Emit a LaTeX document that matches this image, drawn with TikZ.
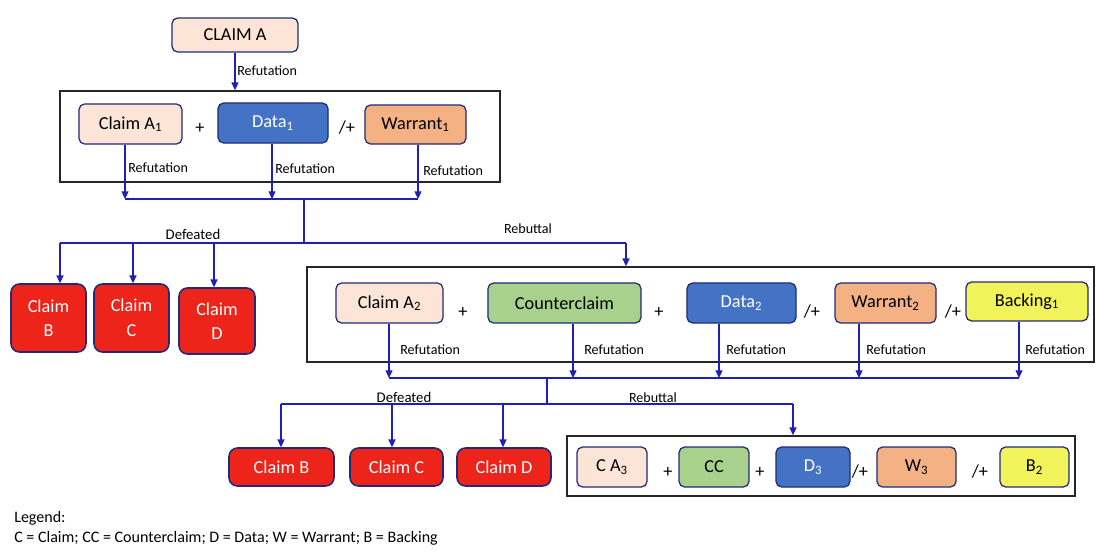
\documentclass[tikz,border=0pt]{standalone}
\usepackage{fontspec}
\setmainfont{Carlito}
\usetikzlibrary{arrows.meta, positioning}

\definecolor{peach}{RGB}{252,228,214}
\definecolor{datablue}{RGB}{68,114,196}
\definecolor{warrorange}{RGB}{244,177,131}
\definecolor{ccgreen}{RGB}{169,209,142}
\definecolor{backyellow}{RGB}{242,242,90}
\definecolor{defred}{RGB}{236,36,26}
\definecolor{navy}{RGB}{32,44,120}
\definecolor{linkblue}{RGB}{32,32,185}

\begin{document}
\begin{tikzpicture}[
      x=0.025cm, y=-0.025cm,
      box/.style={rectangle, draw=navy, line width=0.9pt, rounded corners=4pt, align=center, inner sep=2pt, font=\fontsize{13}{15}\selectfont},
      claimbox/.style={box, fill=peach},
      databox/.style={box, fill=datablue, text=white},
      warrbox/.style={box, fill=warrorange},
      ccbox/.style={box, fill=ccgreen},
      backbox/.style={box, fill=backyellow},
      defeat/.style={box, fill=defred, text=white, line width=1.1pt, rounded corners=6pt, font=\fontsize{13}{17.5}\selectfont},
      frame/.style={rectangle, draw=black!85, line width=1.1pt, inner sep=0pt},
      op/.style={font=\fontsize{13}{15}\selectfont, inner sep=0pt},
      lbl/.style={font=\fontsize{10}{12}\selectfont, inner sep=0pt},
      arrow/.style={-{Triangle[width=5pt,length=5.5pt]}, draw=linkblue, line width=0.9pt},
      link/.style={draw=linkblue, line width=0.9pt}
    ]
    \useasboundingbox (0,0) rectangle (1096,552);

    \node[claimbox, minimum width=3.15cm, minimum height=0.85cm] (claimA) at (235,35) {CLAIM A};

    % first refutation
    \node[frame, minimum width=11cm, minimum height=2.275cm] (f1) at (280,136.5) {};
    \node[claimbox, minimum width=2.575cm, minimum height=1cm] (ca1) at (130.5,124) {Claim A\textsubscript{1}};
    \node[op] (p1) at (200,128) {+};
    \node[databox, minimum width=2.75cm, minimum height=1cm] (d1) at (273,123) {Data\textsubscript{1}};
    \node[op] (p2) at (347,128) {/+};
    \node[warrbox, minimum width=2.525cm, minimum height=0.975cm] (w1) at (415.5,124.5) {Warrant\textsubscript{1}};

    \draw[arrow] (claimA) -- (claimA |- f1.north);
    \node[lbl, anchor=west] at (237,71) {Refutation};

    \coordinate (r1) at (125,199);
    \coordinate (r2) at (272,199);
    \coordinate (r3) at (418,199);
    \draw[arrow] (ca1.south -| r1) -- (r1);
    \draw[arrow] (d1.south -| r2) -- (r2);
    \draw[arrow] (w1.south -| r3) -- (r3);
    \node[lbl, anchor=west] at (128,168) {Refutation};
    \node[lbl, anchor=west] at (275,169) {Refutation};
    \node[lbl, anchor=west] at (423,171) {Refutation};
    \draw[link] (r1) -- (r3);

    \coordinate (j1) at (304,199);
    \coordinate (j2) at (304,243);
    \coordinate (dB) at (60,243);
    \coordinate (dC) at (133,243);
    \coordinate (dD) at (214,243);
    \coordinate (rb1) at (626,243);
    \draw[link] (j1) -- (j2);
    \draw[link] (dB) -- (rb1);
    \node[lbl, font=\fontsize{10.5}{12}\selectfont] at (193,234) {Defeated};
    \node[lbl] at (528,229) {Rebuttal};

    \node[defeat, minimum width=1.875cm, minimum height=1.7cm] (cB) at (48.5,318) {Claim\\B};
    \node[defeat, minimum width=1.875cm, minimum height=1.7cm] (cC) at (131.5,318) {Claim\\C};
    \node[defeat, minimum width=1.9cm, minimum height=1.65cm] (cD) at (217,321) {Claim\\D};
    \draw[arrow] (dB) -- (dB |- cB.north);
    \draw[arrow] (dC) -- (dC |- cC.north);
    \draw[arrow] (dD) -- (dD |- cD.north);

    % rebuttal with counterclaim
    \node[frame, minimum width=19.675cm, minimum height=2.375cm] (f2) at (700.5,314.5) {};
    \draw[arrow] (rb1) -- (rb1 |- f2.north);
    \node[claimbox, minimum width=2.675cm, minimum height=1cm] (ca2) at (389.5,303) {Claim A\textsubscript{2}};
    \node[op] (p3) at (463,312) {+};
    \node[ccbox, minimum width=3.825cm, minimum height=1cm] (cc) at (564.5,303) {Counterclaim};
    \node[op] (p4) at (659,312) {+};
    \node[databox, minimum width=2.725cm, minimum height=1cm] (d2) at (741.5,303) {Data\textsubscript{2}};
    \node[op] (p5) at (812,312) {/+};
    \node[warrbox, minimum width=2.525cm, minimum height=1cm] (w2) at (885.5,303) {Warrant\textsubscript{2}};
    \node[op] (p6) at (953,312) {/+};
    \node[backbox, minimum width=3.05cm, minimum height=0.975cm] (b1) at (1027,301.5) {Backing\textsubscript{1}};

    \coordinate (s1) at (389,378);
    \coordinate (s2) at (573,378);
    \coordinate (s3) at (719,378);
    \coordinate (s4) at (859,378);
    \coordinate (s5) at (1019,378);
    \draw[arrow] (ca2.south -| s1) -- (s1);
    \draw[arrow] (cc.south -| s2) -- (s2);
    \draw[arrow] (d2.south -| s3) -- (s3);
    \draw[arrow] (w2.south -| s4) -- (s4);
    \draw[arrow] (b1.south -| s5) -- (s5);
    \node[lbl, anchor=west] at (400,350) {Refutation};
    \node[lbl, anchor=west] at (584,350) {Refutation};
    \node[lbl, anchor=west] at (726,350) {Refutation};
    \node[lbl, anchor=west] at (866,350) {Refutation};
    \node[lbl, anchor=west] at (1025,350) {Refutation};
    \draw[link] (s1) -- (s5);

    \coordinate (k1) at (547,378);
    \coordinate (k2) at (547,404);
    \coordinate (eB) at (281,404);
    \coordinate (eC) at (392,404);
    \coordinate (eD) at (503,404);
    \coordinate (rb2) at (793,404);
    \draw[link] (k1) -- (k2);
    \draw[link] (eB) -- (rb2);
    \node[lbl, font=\fontsize{10.5}{12}\selectfont] at (404,397) {Defeated};
    \node[lbl] at (653,398) {Rebuttal};

    \node[defeat, minimum width=2.625cm, minimum height=0.95cm] (cB2) at (281.5,467) {Claim B};
    \node[defeat, minimum width=2.325cm, minimum height=0.95cm] (cC2) at (396.5,467) {Claim C};
    \node[defeat, minimum width=2.35cm, minimum height=0.95cm] (cD2) at (504,467) {Claim D};
    \draw[arrow] (eB) -- (eB |- cB2.north);
    \draw[arrow] (eC) -- (eC |- cC2.north);
    \draw[arrow] (eD) -- (eD |- cD2.north);

    % second rebuttal
    \node[frame, minimum width=12.7cm, minimum height=1.5cm] (f3) at (821,466) {};
    \draw[arrow] (rb2) -- (rb2 |- f3.north);
    \node[claimbox, minimum width=1.75cm, minimum height=1cm] (ca3) at (612,467) {C A\textsubscript{3}};
    \node[op] (p7) at (668,472) {+};
    \node[ccbox, minimum width=1.75cm, minimum height=1cm] (cc3) at (714,467) {CC};
    \node[op] (p8) at (760,472) {+};
    \node[databox, minimum width=1.85cm, minimum height=1cm] (d3) at (813,467) {D\textsubscript{3}};
    \node[op] (p9) at (860,472) {/+};
    \node[warrbox, minimum width=1.975cm, minimum height=1cm] (w3) at (916.5,467) {W\textsubscript{3}};
    \node[op] (p10) at (980,472) {/+};
    \node[backbox, minimum width=1.725cm, minimum height=1cm] (b2) at (1034.5,467) {B\textsubscript{2}};

    \node[anchor=north west, align=left, inner sep=0pt, font=\fontsize{11.4}{14.5}\selectfont] (legend) at (14,511) {Legend:\\C = Claim; CC = Counterclaim; D = Data; W = Warrant; B = Backing};
  \end{tikzpicture}
\end{document}
